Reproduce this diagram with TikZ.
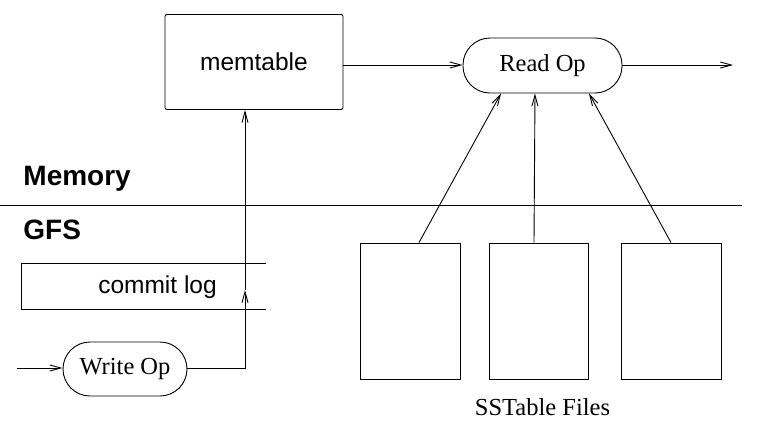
\documentclass[tikz,border=0pt]{standalone}
\usepackage{fontspec}
\setmainfont{Liberation Serif}
\newfontfamily\sansf{Liberation Sans}
\usetikzlibrary{arrows.meta}
\begin{document}
\begin{tikzpicture}[x=1pt,y=-1pt,
  line width=0.9pt,
  arr/.style={-{Straight Barb[length=11pt,width=6pt]}},
  box/.style={draw, rounded corners=2pt, minimum width=178pt, minimum height=95pt, inner sep=0pt},
  op/.style={draw, rounded corners=27pt, inner sep=0pt, font=\fontsize{24.5}{28}\selectfont},
  file/.style={draw, minimum height=136pt, inner sep=0pt},
  lab/.style={inner sep=0pt},
  sanslab/.style={lab, font=\sansf\fontsize{24.5}{28}\selectfont},
  head/.style={lab, anchor=base west, font=\sansf\bfseries\fontsize{28}{32}\selectfont}]
\useasboundingbox (0,0) rectangle (774,437);
% nodes
\node[box, font=\sansf\fontsize{24.5}{28}\selectfont] (mem) at (254,62) {memtable};
\node[op, minimum width=159pt, minimum height=55pt] (read) at (542.5,65.5) {Read Op};
\node[op, minimum width=124pt, minimum height=54pt] (write) at (125,369) {Write Op};
\node[file, minimum width=100pt] (f1) at (410,311) {};
\node[file, minimum width=99pt] (f2) at (538.5,311) {};
\node[file, minimum width=100pt] (f3) at (671,311) {};
\node[lab, anchor=base, font=\fontsize{24.5}{28}\selectfont] (sst) at (542.5,415) {SSTable Files};
\node[head] (memory) at (23,185) {Memory};
\node[head] (gfs) at (23,239) {GFS};
\node[sanslab, anchor=base] (cl) at (157.5,293) {commit log};
% separator
\coordinate (sepL) at (0,205);
\coordinate (sepR) at (742,205);
\draw (sepL) -- (sepR);
% commit log frame
\coordinate (clTR) at (266,263);
\coordinate (clTL) at (21,263);
\coordinate (clBL) at (21,309);
\coordinate (clBR) at (266,309);
\draw (clTR) -- (clTL) -- (clBL) -- (clBR);
% connectors
\coordinate (in) at (17,368);
\draw[arr] (in) -- (in -| write.west);
\coordinate (clarr) at (245,290);
\draw[arr] (in -| write.east) -| (clarr);
\draw[arr] (clarr) -- (mem.south -| clarr);
\coordinate (mid) at (0,65);
\draw[arr] (mid -| mem.east) -- (mid -| read.west);
\coordinate (out) at (733,65);
\draw[arr] (out -| read.east) -- (out);
\draw[arr] ([xshift=9pt]f1.north) -- ([xshift=-41.5pt]read.south);
\draw[arr] ([xshift=-4.5pt]f2.north) -- ([xshift=-7.5pt]read.south);
\draw[arr] (f3.north) -- ([xshift=46.5pt]read.south);
\end{tikzpicture}
\end{document}
